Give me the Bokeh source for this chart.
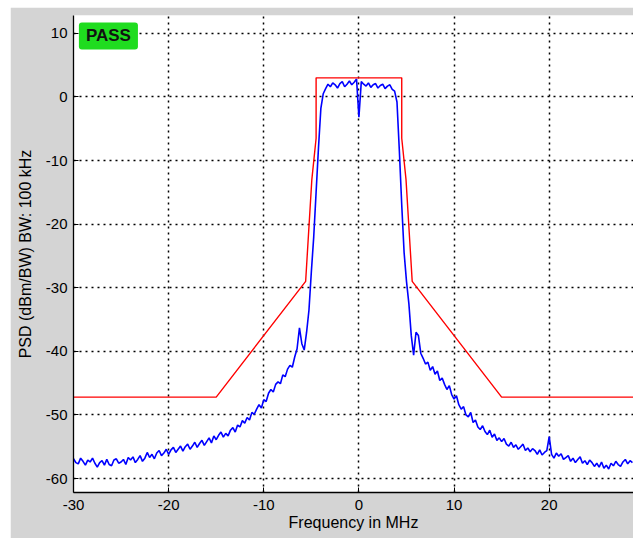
import numpy as np
from bokeh.plotting import figure
from bokeh.layouts import column, row
from bokeh.models import FixedTicker, Label, Range1d, Spacer
from bokeh.embed import file_html
from bokeh.resources import INLINE

# ---- data -------------------------------------------------------------
# measured PSD, 0.25 MHz sampling, one row per MHz starting at -30 MHz
psd_rows = [
    [-56.9, -57.5, -57.7, -56.8],  # -30
    [-57.3, -57.9, -57.1, -57.4],  # -29
    [-56.8, -57.6, -58.2, -57.5],  # -28
    [-57.2, -57.9, -57.0, -57.8],  # -27
    [-58.0, -57.1, -56.9, -57.6],  # -26
    [-57.4, -57.0, -57.8, -56.7],  # -25
    [-57.1, -56.6, -57.5, -57.0],  # -24
    [-56.4, -57.3, -56.8, -55.9],  # -23
    [-56.7, -56.2, -56.9, -56.0],  # -22
    [-55.6, -56.4, -56.0, -55.4],  # -21
    [-56.2, -55.5, -55.1, -55.9],  # -20
    [-55.4, -54.9, -55.7, -55.0],  # -19
    [-54.6, -55.4, -54.9, -54.3],  # -18
    [-55.1, -54.5, -54.0, -54.8],  # -17
    [-54.2, -53.6, -54.4, -53.3],  # -16
    [-53.9, -53.2, -52.7, -53.5],  # -15
    [-52.9, -53.3, -52.4, -52.0],  # -14
    [-52.7, -51.6, -51.9, -50.9],  # -13
    [-51.3, -50.4, -50.8, -49.6],  # -12
    [-49.9, -49.1, -48.4, -48.9],  # -11
    [-47.6, -47.9, -46.6, -46.0],  # -10
    [-46.4, -45.2, -44.8, -45.1],  # -9
    [-43.7, -44.0, -42.8, -42.2],  # -8
    [-42.5, -40.9, -39.6, -36.3],  # -7
    [-38.8, -39.8, -37.0, -33.5],  # -6
    [-27.5, -22.0, -15.0, -8.0],   # -5
    [-1.8, 0.5, 1.3, 2.0],         # -4
    [1.6, 2.2, 1.9, 1.4],          # -3
    [2.1, 2.4, 1.6, 2.0],          # -2
    [2.5, 1.9, 2.3, 2.8],          # -1
    [-3.2, 2.4, 2.0, 1.7],         # 0
    [2.2, 1.5, 1.9, 2.1],          # 1
    [1.4, 1.8, 2.0, 1.3],          # 2
    [1.7, 1.9, 1.2, 0.9],          # 3
    [-0.8, -8.5, -17.0, -24.5],    # 4
    [-29.0, -32.5, -37.5, -40.6],  # 5
    [-37.0, -37.5, -40.3, -41.1],  # 6
    [-42.0, -41.7, -43.0, -42.4],  # 7
    [-43.6, -43.1, -44.6, -44.2],  # 8
    [-45.2, -46.0, -45.4, -46.8],  # 9
    [-47.5, -47.0, -48.4, -49.1],  # 10
    [-48.7, -50.0, -50.3, -49.6],  # 11
    [-51.2, -50.8, -51.9, -52.3],  # 12
    [-51.7, -52.6, -53.1, -52.4],  # 13
    [-53.5, -53.0, -54.0, -53.6],  # 14
    [-54.2, -53.7, -54.6, -54.9],  # 15
    [-54.3, -55.1, -54.7, -55.4],  # 16
    [-55.0, -54.6, -55.6, -55.2],  # 17
    [-55.8, -55.3, -55.6, -56.2],  # 18
    [-55.5, -56.3, -55.9, -55.6],  # 19
    [-53.4, -56.2, -56.8, -56.0],  # 20
    [-56.5, -56.1, -57.0, -56.7],  # 21
    [-56.4, -57.3, -56.8, -57.5],  # 22
    [-57.0, -56.6, -57.6, -57.2],  # 23
    [-57.8, -57.1, -57.5, -58.1],  # 24
    [-57.6, -58.2, -57.4, -58.4],  # 25
    [-57.9, -58.5, -57.6, -58.0],  # 26
    [-57.3, -57.8, -58.1, -57.4],  # 27
    [-57.0, -57.7, -57.2, -57.5],  # 28
]
freq_start = -30.0
freq_step = 0.25

# spectrum emission mask
mask_freq = [-30, -15, -5.6, -4.95, -4.5, -4.5, 4.5, 4.5, 4.95, 5.6, 15, 30]
mask_psd = [-47.2, -47.2, -29, -13, -6.5, 3, 3, -6.5, -13, -29, -47.2, -47.2]

x_ticks = [-30, -20, -10, 0, 10, 20]
x_tick_labels = ["-30", "-20", "-10", "0", "10", "20"]
y_ticks = [-60, -50, -40, -30, -20, -10, 0, 10]
y_tick_labels = ["-60", "-50", "-40", "-30", "-20", "-10", "0", "10"]

verdict = "PASS"

# ---- build -------------------------------------------------------------
psd = [v for row_ in psd_rows for v in row_]
freq = [freq_start + freq_step * i for i in range(len(psd))]

FONT = "Liberation Sans"

p = figure(width=623, height=531, output_backend="svg", toolbar_location=None,
           x_range=Range1d(-30, 28.86), y_range=Range1d(-62.2, 12.8),
           min_border_left=63, min_border_top=8, min_border_right=0,
           min_border_bottom=46,
           background_fill_color="white", border_fill_color="#d4d4d4",
           outline_line_color=None)

p.line(freq, psd, line_color="#0000ff", line_width=1.6)
p.line(mask_freq, mask_psd, line_color="#ff0000", line_width=1.4)

for ax, ticks, labels in ((p.xaxis, x_ticks, x_tick_labels),
                          (p.yaxis, y_ticks, y_tick_labels)):
    ax.ticker = FixedTicker(ticks=ticks)
    ax.major_label_overrides = {t: l for t, l in zip(ticks, labels)}
    ax.major_tick_in = 5
    ax.major_tick_out = 0
    ax.minor_tick_line_color = None
    ax.major_tick_line_color = "black"
    ax.axis_line_color = "black"
    ax.axis_line_width = 1.3
    ax.major_label_text_font = FONT
    ax.major_label_text_font_size = "15px"
    ax.major_label_text_color = "black"
    ax.axis_label_text_font = FONT
    ax.axis_label_text_font_size = "16px"
    ax.axis_label_text_font_style = "normal"
    ax.axis_label_text_color = "black"

p.xaxis.axis_label = "Frequency in MHz"
p.yaxis.axis_label = "PSD (dBm/BW) BW: 100 kHz"
p.xaxis.major_label_standoff = 7
p.xaxis.axis_label_standoff = 1
p.yaxis.major_label_standoff = 6
p.yaxis.axis_label_standoff = 9

for g in (p.xgrid, p.ygrid):
    g.grid_line_color = "black"
    g.grid_line_dash = "2 4"
    g.grid_line_width = 1.5

badge = Label(x=-26.33, y=9.58, text=verdict, text_align="center",
              text_baseline="middle", text_font=FONT, text_font_size="17px",
              text_font_style="bold", text_color="#111111",
              background_fill_color="#1fdc1f", border_radius=3,
              padding=dict(x=7, y=4))
p.add_layout(badge)

layout = column(Spacer(height=7), row(Spacer(width=10), p))

open("out.html", "w").write(file_html(layout, INLINE))
